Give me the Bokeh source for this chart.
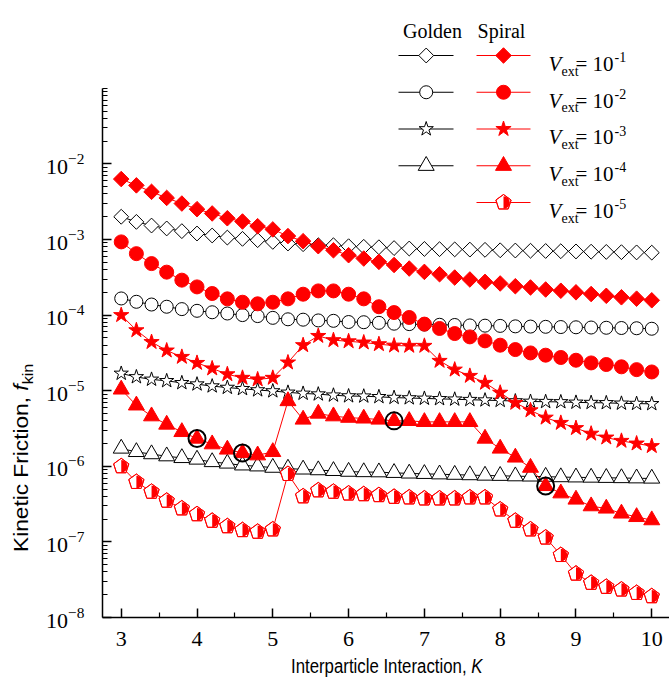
import math
from bokeh.plotting import figure
from bokeh.layouts import column, row
from bokeh.models import Range1d, FixedTicker, LogTickFormatter, LinearScale, Div
from bokeh.core.properties import value
from bokeh.embed import file_html
from bokeh.resources import INLINE

# ---------------- data ----------------
K = [3.0, 3.2, 3.4, 3.6, 3.8, 4.0, 4.2, 4.4, 4.6, 4.8, 5.0, 5.2, 5.4, 5.6, 5.8, 6.0, 6.2, 6.4,
     6.6, 6.8, 7.0, 7.2, 7.4, 7.6, 7.8, 8.0, 8.2, 8.4, 8.6, 8.8, 9.0, 9.2, 9.4, 9.6, 9.8, 10.0]

golden_1 = [2.0e-3, 1.71e-3, 1.53e-3, 1.40e-3, 1.29e-3, 1.20e-3, 1.13e-3, 1.06e-3, 1.02e-3, 9.8e-4,
            9.3e-4, 8.85e-4, 8.67e-4, 8.4e-4, 8.4e-4, 8.15e-4, 8.0e-4, 7.9e-4, 7.7e-4, 7.6e-4,
            7.5e-4, 7.45e-4, 7.4e-4, 7.35e-4, 7.3e-4, 7.2e-4, 7.15e-4, 7.1e-4, 7.05e-4, 7.0e-4,
            6.95e-4, 6.9e-4, 6.85e-4, 6.8e-4, 6.75e-4, 6.7e-4]
spiral_1 = [6.3e-3, 5.2e-3, 4.27e-3, 3.55e-3, 2.99e-3, 2.52e-3, 2.21e-3, 1.91e-3, 1.73e-3, 1.50e-3,
            1.36e-3, 1.11e-3, 9.5e-4, 8.15e-4, 7.2e-4, 6.2e-4, 5.6e-4, 5.06e-4, 4.6e-4, 4.13e-4,
            3.73e-4, 3.47e-4, 3.14e-4, 2.96e-4, 2.75e-4, 2.62e-4, 2.41e-4, 2.32e-4, 2.18e-4, 2.1e-4,
            2.0e-4, 1.9e-4, 1.8e-4, 1.72e-4, 1.65e-4, 1.57e-4]
golden_2 = [1.66e-4, 1.50e-4, 1.38e-4, 1.29e-4, 1.20e-4, 1.14e-4, 1.09e-4, 1.05e-4, 1.0e-4, 9.7e-5,
            9.2e-5, 8.8e-5, 8.7e-5, 8.5e-5, 8.4e-5, 8.1e-5, 8.05e-5, 7.9e-5, 7.7e-5, 7.6e-5,
            7.5e-5, 7.45e-5, 7.4e-5, 7.3e-5, 7.25e-5, 7.2e-5, 7.1e-5, 7.05e-5, 7.0e-5, 6.95e-5,
            6.9e-5, 6.85e-5, 6.8e-5, 6.75e-5, 6.7e-5, 6.6e-5]
spiral_2 = [9.3e-4, 6.5e-4, 4.8e-4, 3.7e-4, 2.9e-4, 2.36e-4, 1.93e-4, 1.64e-4, 1.48e-4, 1.41e-4,
            1.48e-4, 1.64e-4, 1.89e-4, 2.09e-4, 2.09e-4, 1.89e-4, 1.64e-4, 1.29e-4, 1.08e-4, 9.3e-5,
            7.6e-5, 6.65e-5, 5.7e-5, 5.15e-5, 4.56e-5, 4.0e-5, 3.5e-5, 3.16e-5, 2.95e-5, 2.75e-5,
            2.53e-5, 2.33e-5, 2.22e-5, 2.07e-5, 1.9e-5, 1.77e-5]
golden_3 = [1.69e-5, 1.52e-5, 1.41e-5, 1.35e-5, 1.27e-5, 1.22e-5, 1.15e-5, 1.10e-5, 1.06e-5, 1.02e-5,
            9.9e-6, 9.5e-6, 9.2e-6, 9.0e-6, 8.7e-6, 8.5e-6, 8.45e-6, 8.3e-6, 8.1e-6, 8.0e-6,
            7.9e-6, 7.8e-6, 7.7e-6, 7.6e-6, 7.5e-6, 7.4e-6, 7.3e-6, 7.2e-6, 7.15e-6, 7.1e-6,
            7.0e-6, 6.95e-6, 6.9e-6, 6.8e-6, 6.75e-6, 6.7e-6]
spiral_3 = [1.0e-4, 6.3e-5, 4.4e-5, 3.4e-5, 2.8e-5, 2.33e-5, 1.97e-5, 1.65e-5, 1.48e-5, 1.41e-5,
            1.48e-5, 2.36e-5, 4.0e-5, 5.3e-5, 4.66e-5, 4.5e-5, 4.34e-5, 4.12e-5, 3.95e-5, 3.92e-5,
            3.92e-5, 2.48e-5, 1.9e-5, 1.57e-5, 1.27e-5, 9.4e-6, 6.9e-6, 5.5e-6, 4.4e-6, 3.75e-6,
            3.2e-6, 2.7e-6, 2.4e-6, 2.17e-6, 2.0e-6, 1.85e-6]
golden_4 = [1.72e-6, 1.55e-6, 1.45e-6, 1.36e-6, 1.29e-6, 1.23e-6, 1.14e-6, 1.09e-6, 1.03e-6, 1.0e-6,
            9.6e-7, 9.35e-7, 9.1e-7, 8.9e-7, 8.7e-7, 8.5e-7, 8.4e-7, 8.36e-7, 8.2e-7, 8.05e-7,
            7.95e-7, 7.85e-7, 7.75e-7, 7.65e-7, 7.55e-7, 7.5e-7, 7.4e-7, 7.35e-7, 7.3e-7, 7.2e-7,
            7.15e-7, 7.1e-7, 7.05e-7, 7.0e-7, 6.95e-7, 6.9e-7]
spiral_4 = [1.04e-5, 6.4e-6, 4.6e-6, 3.57e-6, 2.85e-6, 2.33e-6, 1.96e-6, 1.67e-6, 1.50e-6, 1.40e-6,
            1.55e-6, 7.3e-6, 4.16e-6, 4.99e-6, 4.6e-6, 4.4e-6, 4.3e-6, 4.16e-6, 3.99e-6, 3.99e-6,
            3.87e-6, 3.87e-6, 3.87e-6, 3.87e-6, 2.33e-6, 1.72e-6, 1.31e-6, 9.6e-7, 5.5e-7, 4.4e-7,
            3.64e-7, 2.97e-7, 2.77e-7, 2.38e-7, 2.14e-7, 1.94e-7]
spiral_5 = [1.0e-6, 6.2e-7, 4.6e-7, 3.5e-7, 2.77e-7, 2.32e-7, 1.9e-7, 1.61e-7, 1.43e-7, 1.36e-7,
            1.46e-7, 7.9e-7, 4.0e-7, 4.8e-7, 4.6e-7, 4.36e-7, 4.27e-7, 4.15e-7, 3.94e-7, 3.87e-7,
            3.75e-7, 3.75e-7, 3.75e-7, 3.87e-7, 3.87e-7, 2.68e-7, 1.9e-7, 1.46e-7, 1.14e-7, 6.7e-8,
            3.8e-8, 2.87e-8, 2.54e-8, 2.34e-8, 2.11e-8, 1.91e-8]

# points of the 1e-4 spiral series that are circled
circled_K = [4.0, 4.6, 6.6, 8.6]

vext_exponents = ["-1", "-2", "-3", "-4", "-5"]
x_ticks = [3, 4, 5, 6, 7, 8, 9, 10]
y_decades = [-8, -7, -6, -5, -4, -3, -2]

# ---------------- figure ----------------
FW, FH = 567, 617  # frame size in px
p = figure(width=629, height=657, y_axis_type="log",
           x_range=Range1d(2.753, 10.234), y_range=Range1d(1e-8, 10 ** 0.1614),
           output_backend="svg", toolbar_location=None, margin=0,
           min_border_left=62, min_border_right=0, min_border_top=0, min_border_bottom=40)
p.outline_line_color = None
p.grid.visible = False
p.background_fill_color = "white"
p.border_fill_color = "white"

p.extra_x_ranges = {"lx": Range1d(0, FW)}
p.extra_y_ranges = {"ly": Range1d(FH, 0)}
p.extra_x_scales = {"lx": LinearScale()}
p.extra_y_scales = {"ly": LinearScale()}

serif = "Liberation Serif"

xax = p.xaxis[0]
yax = p.yaxis[0]
xax.ticker = FixedTicker(ticks=x_ticks, minor_ticks=[t + 0.5 for t in x_ticks[:-1]])
yax.ticker = FixedTicker(ticks=[10.0 ** d for d in y_decades],
                         minor_ticks=[m * 10.0 ** d for d in y_decades for m in range(2, 10)] + [1e-1])
yax.formatter = LogTickFormatter()
yax.bounds = (1e-8, 1e-1)
for ax in (xax, yax):
    ax.axis_line_color = "black"
    ax.axis_line_width = 1.5
    ax.major_tick_in = 9
    ax.major_tick_out = 0
    ax.minor_tick_in = 5
    ax.minor_tick_out = 0
    ax.major_tick_line_color = "black"
    ax.minor_tick_line_color = "black"
    ax.major_tick_line_width = 1.5
    ax.minor_tick_line_width = 1.2
    ax.major_label_text_font = serif
    ax.major_label_text_font_size = "22px"
    ax.major_label_text_color = "black"
xax.major_label_standoff = 14
yax.major_label_standoff = 18

# ---------------- data series ----------------
golden = [(golden_1, "square", 10.5, math.pi / 4), (golden_2, "circle", 13, 0),
          (golden_3, "star", 15, 0), (golden_4, "triangle", 16, 0)]
spiral = [(spiral_1, "square", 11, math.pi / 4), (spiral_2, "circle", 14, 0),
          (spiral_3, "star", 16, 0), (spiral_4, "triangle", 16, 0)]

for vals, mk, sz, ang in golden:
    p.line(K, vals, line_color="black", line_width=1)
    p.scatter(K, vals, marker=mk, size=sz, angle=ang, fill_color="white",
              line_color="black", line_width=1)

for vals, mk, sz, ang in spiral:
    p.line(K, vals, line_color="red", line_width=1)
    p.scatter(K, vals, marker=mk, size=sz, angle=ang, fill_color="red",
              line_color="red", line_width=1)

PENT_ANGLE = 0.0


def half_pentagons(xs, ys, **kw):
    p.ngon(x=xs, y=ys, radius=8, radius_units="screen", n=5, angle=PENT_ANGLE,
           fill_color="white", line_color="red", line_width=1, **kw)
    p.wedge(x=xs, y=ys, radius=6.3, radius_units="screen", start_angle=-math.pi / 2,
            end_angle=math.pi / 2, fill_color="red", line_color=None, **kw)
    p.ngon(x=xs, y=ys, radius=8, radius_units="screen", n=5, angle=PENT_ANGLE,
           fill_color=None, line_color="red", line_width=1, **kw)


p.line(K, spiral_5, line_color="red", line_width=1)
half_pentagons(K, spiral_5)

circled_vals = [spiral_4[K.index(k)] for k in circled_K]
p.scatter(circled_K, circled_vals, marker="circle", size=17, fill_color=None,
          line_color="black", line_width=2)

# ---------------- legend (frame pixel coords) ----------------
row_y = [55, 91.75, 128.5, 165.25, 202]
g_x0, g_x1, g_xm = 296, 351, 323.7
s_x0, s_x1, s_xm = 374, 428, 401

lr = dict(x_range_name="lx", y_range_name="ly")
p.text(x=[330, 399], y=[30, 30], text=["Golden", "Spiral"], text_font=value(serif),
       text_font_size=value("20px"), text_align="center", text_baseline="alphabetic",
       text_color="black", **lr)

p.segment(x0=[g_x0] * 4, y0=row_y[:4], x1=[g_x1] * 4, y1=row_y[:4], line_color="black", line_width=1, **lr)
p.segment(x0=[s_x0] * 5, y0=row_y, x1=[s_x1] * 5, y1=row_y, line_color="red", line_width=1, **lr)
for i, (vals, mk, sz, ang) in enumerate(golden):
    p.scatter([g_xm], [row_y[i]], marker=mk, size=sz, angle=ang, fill_color="white",
              line_color="black", line_width=1, **lr)
for i, (vals, mk, sz, ang) in enumerate(spiral):
    p.scatter([s_xm], [row_y[i]], marker=mk, size=sz, angle=ang, fill_color="red",
              line_color="red", line_width=1, **lr)
half_pentagons([s_xm], [row_y[4]], **lr)

vx = 446
p.text(x=[vx] * 5, y=[r + 8.3 for r in row_y], text=["V"] * 5, text_font=value(serif),
       text_font_style="italic", text_font_size=value("21px"), text_baseline="alphabetic",
       text_color="black", **lr)
p.text(x=[vx + 13] * 5, y=[r + 15.7 for r in row_y], text=["ext"] * 5, text_font=value(serif),
       text_font_size=value("14px"), text_baseline="alphabetic", text_color="black", **lr)
p.text(x=[vx + 27] * 5, y=[r + 8.3 for r in row_y], text=["= 10"] * 5, text_font=value(serif),
       text_font_size=value("21px"), text_baseline="alphabetic", text_color="black", **lr)
p.text(x=[vx + 66] * 5, y=[r + 1.5 for r in row_y], text=vext_exponents, text_font=value(serif),
       text_font_size=value("14px"), text_baseline="alphabetic", text_color="black", **lr)

# ---------------- axis titles (HTML text) ----------------
ylab_html = (
    '<div style="position:relative;width:40px;height:657px;">'
    '<span style="position:absolute;left:10px;top:552px;transform-origin:0 0;'
    'transform:rotate(-90deg) scaleX(1.08);white-space:nowrap;font-family:\'Liberation Sans\';'
    'font-size:21px;line-height:21px;color:black;">'
    'Kinetic Friction, <i>f</i><span style="font-size:15px;position:relative;top:5px;">kin</span>'
    '</span></div>'
)
xlab_html = (
    '<div style="position:relative;width:669px;height:22px;">'
    '<span style="position:absolute;left:291px;top:-1px;transform-origin:0 0;transform:scaleX(0.84);'
    'white-space:nowrap;font-family:\'Liberation Sans\';font-size:20px;line-height:20px;color:black;">'
    'Interparticle Interaction, <i>K</i></span></div>'
)
ydiv = Div(text=ylab_html, width=40, height=657, margin=0)
xdiv = Div(text=xlab_html, width=669, height=22, margin=0)

layout = column(row(ydiv, p, spacing=0, margin=0), xdiv, spacing=0, margin=0)

open("out.html", "w").write(file_html(layout, INLINE))
